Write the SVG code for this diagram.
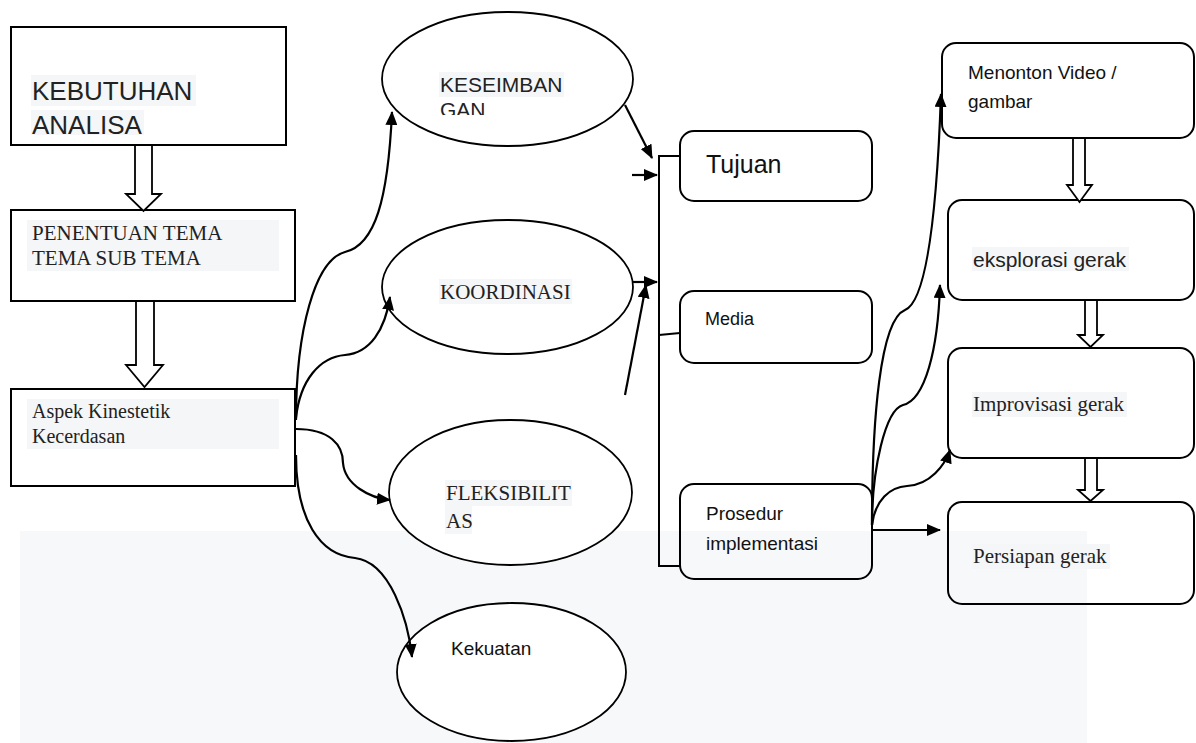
<svg xmlns="http://www.w3.org/2000/svg" width="1196" height="743" viewBox="0 0 1196 743">
<style>
.box{fill:none;stroke:#000;stroke-width:2}
.ell{fill:#fff;stroke:#000;stroke-width:1.8}
.hl{fill:#f5f6f8}
.hollow{fill:#fff;stroke:#000;stroke-width:1.8;stroke-linejoin:miter}
.con{fill:none;stroke:#000;stroke-width:2.2;marker-end:url(#ah)}
.plain{fill:none;stroke:#000;stroke-width:2}
.sans{font-family:"Liberation Sans",Arial,sans-serif;fill:#222}
.serif{font-family:"Liberation Serif","Times New Roman",serif;fill:#222}
.cal{font-family:"Liberation Sans",Arial,sans-serif;fill:#111}
</style>
<defs>
<marker id="ah" markerUnits="userSpaceOnUse" markerWidth="14" markerHeight="12" refX="13" refY="6" orient="auto">
<path d="M0,0 L14,6 L0,12 z" fill="#000"/>
</marker>
<clipPath id="clipK"><rect x="380" y="60" width="260" height="55"/></clipPath>
</defs>
<rect width="1196" height="743" fill="#fff"/>
<rect x="20" y="531" width="1067" height="212" fill="#f7f8fa"/>

<g id="n-kebutuhan">
<rect class="box" x="11" y="27" width="275" height="118"/>
<rect class="hl" x="31" y="75" width="165" height="31"/>
<rect class="hl" x="31" y="110" width="113" height="25"/>
<text class="sans" x="32" y="100" font-size="26">KEBUTUHAN</text>
<text class="sans" x="32" y="134" font-size="26">ANALISA</text>
</g>
<g id="n-penentuan">
<rect class="box" x="11" y="210" width="284" height="91"/>
<rect class="hl" x="27" y="220" width="252" height="51"/>
<text class="serif" x="32" y="240" font-size="21">PENENTUAN TEMA</text>
<text class="serif" x="32" y="265" font-size="21">TEMA SUB TEMA</text>
</g>
<g id="n-aspek">
<rect class="box" x="11" y="389" width="284" height="97"/>
<rect class="hl" x="27" y="399" width="252" height="50"/>
<text class="serif" x="32" y="418" font-size="20">Aspek Kinestetik</text>
<text class="serif" x="32" y="443" font-size="20">Kecerdasan</text>
</g>

<g id="n-keseimbangan">
<ellipse class="ell" cx="507.5" cy="79" rx="125.5" ry="67"/>
<rect class="hl" x="439" y="72" width="125" height="25"/>
<g clip-path="url(#clipK)">
<text class="sans" x="440" y="92" font-size="21">KESEIMBAN</text>
<text class="sans" x="440" y="117" font-size="21">GAN</text>
</g>
</g>
<g id="n-koordinasi">
<ellipse class="ell" cx="507.5" cy="287" rx="125.5" ry="67"/>
<rect class="hl" x="439" y="279" width="133" height="25"/>
<text class="serif" x="440" y="299" font-size="21">KOORDINASI</text>
</g>
<g id="n-fleksibilitas">
<ellipse class="ell" cx="510.5" cy="492.5" rx="121.5" ry="72.5"/>
<rect class="hl" x="445" y="480" width="127" height="26"/>
<rect class="hl" x="445" y="506" width="27" height="28"/>
<text class="serif" x="446" y="500" font-size="21">FLEKSIBILIT</text>
<text class="serif" x="446" y="528" font-size="21">AS</text>
</g>
<g id="n-kekuatan">
<ellipse class="ell" cx="511.5" cy="672" rx="114.5" ry="69"/>
<text class="cal" x="451" y="655" font-size="19">Kekuatan</text>
</g>

<g id="n-tujuan">
<rect class="box" x="680" y="131" width="192" height="70" rx="14"/>
<text class="cal" x="706" y="173" font-size="25">Tujuan</text>
</g>
<g id="n-media">
<rect class="box" x="680" y="291" width="192" height="72" rx="14"/>
<text class="cal" x="705" y="325" font-size="18">Media</text>
</g>
<g id="n-prosedur">
<rect class="box" x="680" y="484" width="192" height="95" rx="14"/>
<text class="cal" x="706" y="520" font-size="19">Prosedur</text>
<text class="cal" x="706" y="550" font-size="19">implementasi</text>
</g>

<g id="n-menonton">
<rect class="box" x="942" y="43" width="252" height="95" rx="14"/>
<text class="cal" x="968" y="79" font-size="19">Menonton Video /</text>
<text class="cal" x="968" y="108" font-size="19">gambar</text>
</g>
<g id="n-eksplorasi">
<rect class="box" x="948" y="200" width="246" height="100" rx="14"/>
<rect class="hl" x="972" y="247" width="157" height="24"/>
<text class="sans" x="973" y="267" font-size="21">eksplorasi gerak</text>
</g>
<g id="n-improvisasi">
<rect class="box" x="948" y="348" width="246" height="110" rx="14"/>
<rect class="hl" x="972" y="392" width="155" height="25"/>
<text class="serif" x="973" y="411" font-size="21">Improvisasi gerak</text>
</g>
<g id="n-persiapan">
<rect class="box" x="948" y="502" width="246" height="102" rx="14"/>
<rect class="hl" x="972" y="544" width="138" height="25"/>
<text class="serif" x="973" y="563" font-size="21">Persiapan gerak</text>
</g>

<g id="connectors">
<!-- hollow block arrows -->
<path class="hollow" d="M135,145 L152,145 L152,194 L161,194 L143.5,211 L126,194 L135,194 Z"/>
<path class="hollow" d="M136,301 L154,301 L154,365 L163,365 L144.5,387 L126,365 L136,365 Z"/>
<path class="hollow" d="M1073,138 L1085,138 L1085,185 L1092,185 L1079.5,202 L1067,185 L1073,185 Z"/>
<path class="hollow" d="M1085,300 L1097,300 L1097,335 L1103,335 L1090.5,347 L1078,335 L1085,335 Z"/>
<path class="hollow" d="M1085,458 L1097,458 L1097,490 L1103,490 L1090.5,501 L1078,490 L1085,490 Z"/>

<!-- bracket -->
<path class="plain" d="M680,156 L659,156 L659,566 L680,566"/>
<path class="plain" d="M659,335 L680,333"/>

<!-- arrows into bracket -->
<path class="con" d="M625,105 L652,158"/>
<path class="con" d="M632,175 L657,175"/>
<path class="con" d="M633,282 L657,282"/>
<path class="con" d="M625,395 L646,285"/>

<!-- from Aspek -->
<path class="con" d="M296,420 C296,330 315,260 345,252 C375,245 388,200 392,112"/>
<path class="con" d="M296,418 C300,380 320,357 345,355 C370,353 385,330 390,297"/>
<path class="con" d="M296,429 C330,429 343,445 343,463 C345,485 370,498 390,500"/>
<path class="con" d="M296,455 C296,520 320,555 355,558 C390,562 408,620 412,657"/>

<!-- from Prosedur -->
<path class="con" d="M872,530 L940,530"/>
<path class="con" d="M872,525 C875,500 890,487 907,486 C930,485 945,465 950,450"/>
<path class="con" d="M872,525 C872,470 885,410 903,405 C925,400 938,350 940,285"/>
<path class="con" d="M872,525 C872,420 880,320 905,310 C930,300 938,180 941,94"/>
</g>
</svg>
